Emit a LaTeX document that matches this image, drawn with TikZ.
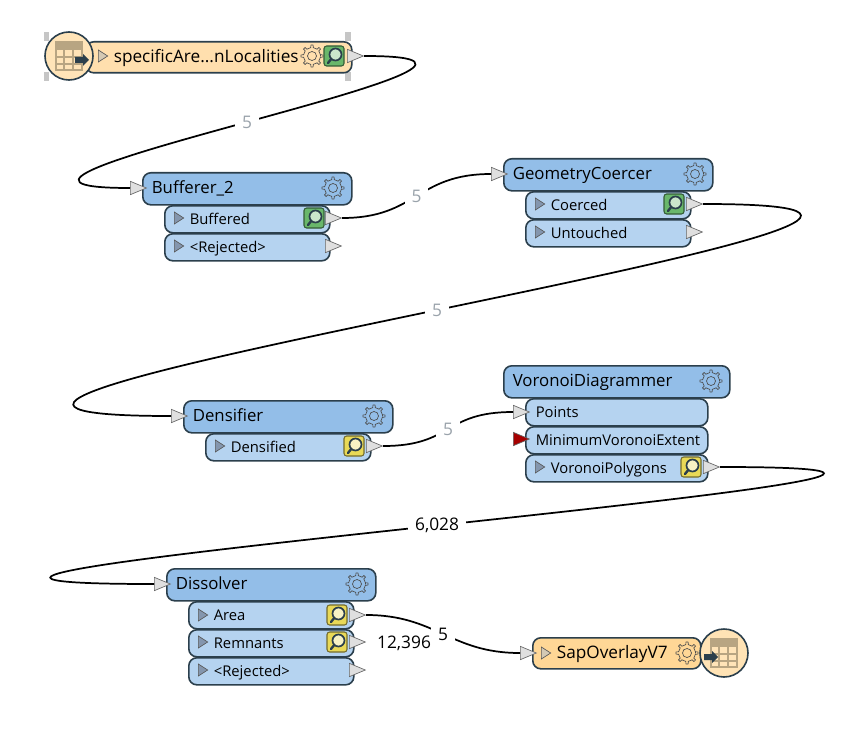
\documentclass[tikz,border=0pt]{standalone}
\usepackage{fontspec}
\setmainfont{Open Sans}
\usepackage{xcolor}
\usetikzlibrary{shapes.geometric}

\definecolor{rim}{HTML}{2B3F4C}
\definecolor{headblue}{HTML}{93BEE8}
\definecolor{portblue}{HTML}{B5D3F0}
\definecolor{srctan}{HTML}{FFDFAE}
\definecolor{sinktan}{HTML}{FFD796}
\definecolor{disctan}{HTML}{FFE4B8}
\definecolor{tabletan}{HTML}{B8A582}
\definecolor{count}{HTML}{9AA3AB}
\definecolor{tickblue}{HTML}{8496AE}
\definecolor{lensgreen}{HTML}{69B76B}
\definecolor{lensyellow}{HTML}{E9D957}

\begin{document}
\begin{tikzpicture}[
  x=0.75pt, y=-0.75pt,
  bar/.style={draw=rim, line width=1.2pt, rounded corners=6pt, anchor=north west,
              align=left, inner ysep=0pt, text height=10pt, text depth=2.5pt},
  head/.style={bar, fill=headblue, minimum height=24pt, inner xsep=6.75pt,
               text width=#1, font=\fontsize{12.6}{15}\selectfont},
  head/.default=143.25pt,
  outbar/.style={bar, fill=portblue, minimum height=20.25pt, inner xsep=18.75pt,
                 text width=#1, font=\fontsize{11.1}{13}\selectfont},
  outbar/.default=86.25pt,
  inbar/.style={bar, fill=portblue, minimum height=20.25pt, inner xsep=7.5pt,
                text width=121.5pt, font=\fontsize{11.1}{13}\selectfont},
  tipp/.style={isosceles triangle, isosceles triangle stretches, shape border rotate=0,
               draw=gray!80!black, fill=#1, line width=0.5pt, inner sep=0pt,
               minimum height=12pt, minimum width=10pt, anchor=west},
  tipp/.default=gray!25,
  tick/.style={isosceles triangle, isosceles triangle stretches, shape border rotate=0,
               draw=gray!70!black, fill=#1, line width=0.5pt, inner sep=0pt,
               minimum height=7pt, minimum width=9pt, anchor=west},
  tick/.default=tickblue,
  link/.style={draw=black, line width=1.3pt},
  tally/.style={fill=white, inner xsep=5pt, inner ysep=3pt, text=#1, font=\fontsize{13}{15}\selectfont},
  tally/.default=count,
  disc/.style={circle, draw=rim, line width=1.2pt, fill=disctan, minimum size=36pt, inner sep=0pt},
  grip/.style={fill=gray!45, inner sep=0pt, minimum width=4.2pt, minimum height=6.5pt},
  gear/.pic={
    \draw[gray!60!black, line width=0.5pt, line join=round]
      (0:8.5) \foreach \a in {0,45,...,315} {
        -- (\a-8:8.5) -- (\a-6:11) -- (\a+6:11) -- (\a+8:8.5) -- (\a+37:8.5)
      } -- cycle;
    \draw[gray!60!black, line width=0.5pt] (0,0) circle (4.5);
  },
  lens/.pic={
    \draw[draw=#1!50!black, fill=#1, line width=0.8pt, rounded corners=2pt] (-10,-10) rectangle (10,10);
    \draw[line width=1.8pt, line cap=round, draw=rim] (-6,7) -- (-2,2);
    \draw[draw=rim, fill=#1!35!white, line width=1.3pt] (1.5,-1.5) circle (6);
  },
  sheet/.pic={
    \draw[tabletan, fill=disctan, line width=0.8pt] (-13,-14) rectangle (13,14);
    \fill[tabletan] (-13,-14) rectangle (13,-6);
    \draw[tabletan, line width=0.8pt] (-13,1) -- (13,1) (-13,8) -- (13,8) (-5,-6) -- (-5,14) (4,-6) -- (4,14);
    \fill[rim] (#1-7,1) -- (#1+1,1) -- (#1+1,-2) -- (#1+7,4) -- (#1+1,10) -- (#1+1,7) -- (#1-7,7) -- cycle;
  }
]
  \useasboundingbox (0,0) rectangle (856,738);

  % source
  \node[grip] (gripa) at (46.5,36.5) {};
  \node[grip] (gripb) at (46.5,76.5) {};
  \node[grip] (gripc) at (348,36.5) {};
  \node[grip] (gripd) at (348,76.5) {};
  \node[bar, fill=srctan, minimum height=23.25pt, inner xsep=21pt, text width=157.5pt,
        font=\fontsize{12.9}{15}\selectfont] (src) at (85,41) {specificAre...nLocalities};
  \node[tick=tabletan!60] (srctick) at (98,56) {};
  \pic at (312,56) {gear};
  \pic at (334,56) {lens=lensgreen};
  \node[tipp] (srcout) at (347,56) {};
  \node[disc] (srcdisc) at (69,56) {};
  \pic at (69,56) {sheet=13};

  % Bufferer
  \node[head] (buf) at (142,172) {Bufferer\_2};
  \node[tipp] (bufin) at (130,188) {};
  \pic at (333,188) {gear};
  \node[outbar] (bufok) at (164,205) {Buffered};
  \node[outbar] (bufrej) at (164,233) {<Rejected>};
  \node[tick] (bufoktick) at (174,218) {};
  \node[tick] (bufrejtick) at (174,246) {};
  \pic at (314,218) {lens=lensgreen};
  \node[tipp] (bufokout) at (325,218) {};
  \node[tipp] (bufrejout) at (325,246) {};

  % GeometryCoercer
  \node[head] (geo) at (503,158) {GeometryCoercer};
  \node[tipp] (geoin) at (491,174) {};
  \pic at (695,174) {gear};
  \node[outbar] (geook) at (525,191) {Coerced};
  \node[outbar] (georej) at (525,219) {Untouched};
  \node[tick] (geooktick) at (535,204) {};
  \node[tick] (georejtick) at (535,232) {};
  \pic at (674,204) {lens=lensgreen};
  \node[tipp] (geookout) at (686,204) {};
  \node[tipp] (georejout) at (686,232) {};

  % Densifier
  \node[head] (den) at (183,400) {Densifier};
  \node[tipp] (denin) at (171,416) {};
  \pic at (374,416) {gear};
  \node[outbar] (denok) at (205,433) {Densified};
  \node[tick] (denoktick) at (215,446) {};
  \pic at (354,446) {lens=lensyellow};
  \node[tipp] (denokout) at (366,446) {};

  % VoronoiDiagrammer
  \node[head=156pt] (vor) at (503,365) {VoronoiDiagrammer};
  \pic at (711,381) {gear};
  \node[inbar] (vorpts) at (525,398) {Points};
  \node[inbar] (vorext) at (525,426) {MinimumVoronoiExtent};
  \node[outbar=99pt] (vorpoly) at (525,454) {VoronoiPolygons};
  \node[tipp] (vorin) at (513,412) {};
  \node[tipp={red!65!black}] (vorred) at (513,439) {};
  \node[tick] (vorpolytick) at (535,467) {};
  \pic at (691,467) {lens=lensyellow};
  \node[tipp] (vorout) at (703,467) {};

  % Dissolver
  \node[head] (dis) at (166,568) {Dissolver};
  \node[tipp] (disin) at (154,584) {};
  \pic at (357,584) {gear};
  \node[outbar] (disarea) at (188,601) {Area};
  \node[outbar] (disrem) at (188,629) {Remnants};
  \node[outbar] (disrej) at (188,657) {<Rejected>};
  \node[tick] (disareatick) at (198,615) {};
  \node[tick] (disremtick) at (198,642) {};
  \node[tick] (disrejtick) at (198,670) {};
  \pic at (337,615) {lens=lensyellow};
  \pic at (337,642) {lens=lensyellow};
  \node[tipp] (disareaout) at (349,615) {};
  \node[tipp] (disremout) at (349,642) {};
  \node[tipp] (disrejout) at (349,670) {};

  % sink
  \node[bar, fill=sinktan, minimum height=23.25pt, inner xsep=18pt, text width=90pt,
        font=\fontsize{12.9}{15}\selectfont] (sink) at (532,637) {SapOverlayV7};
  \node[tipp] (sinkin) at (520,653) {};
  \node[tick=tabletan!60] (sinktick) at (541,653) {};
  \pic at (687,653) {gear};
  \node[disc, fill=sinktan!70!white] (sinkdisc) at (724,653) {};
  \pic at (724,653) {sheet=-13};

  % connectors
  \draw[link] (srcout.apex) .. controls +(245,0) and +(-245,0) .. node[tally] (cnta) {5} (bufin.west);
  \draw[link] (bufokout.apex) .. controls +(75,0) and +(-75,0) .. node[tally] (cntb) {5} (geoin.west);
  \draw[link] (geookout.apex) .. controls +(485,0) and +(-485,0) .. node[tally] (cntc) {5} (denin.west);
  \draw[link] (denokout.apex) .. controls +(70,0) and +(-70,0) .. node[tally] (cntd) {5} (vorin.west);
  \draw[link] (vorout.apex) .. controls +(515,0) and +(-515,0) .. node[tally=black] (cnte) {6,028} (disin.west);
  \draw[link] (disareaout.apex) .. controls +(70,0) and +(-70,0) .. node[tally=black] (cntf) {5} (sinkin.west);
  \node[fill=white, inner sep=1pt, font=\fontsize{13}{15}\selectfont] (remcount) at (404,643) {12,396};
\end{tikzpicture}
\end{document}
